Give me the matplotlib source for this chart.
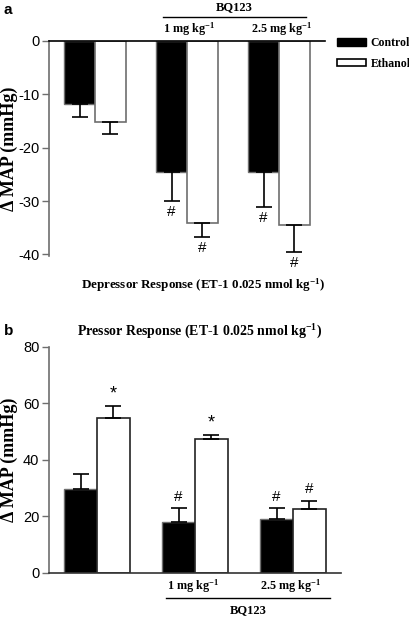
import matplotlib
matplotlib.use('Agg')
import matplotlib.pyplot as plt
import numpy as np

plt.rcParams['axes.unicode_minus'] = False
plt.rcParams['mathtext.fontset'] = 'custom'
plt.rcParams['mathtext.rm'] = 'Liberation Serif:bold'
plt.rcParams['mathtext.it'] = 'Liberation Serif:bold'
plt.rcParams['mathtext.bf'] = 'Liberation Serif:bold'

# ---- data ----
groups = ['Vehicle', '1 mg kg$^{-1}$', '2.5 mg kg$^{-1}$']
series = ['Control', 'Ethanol']

dep_control = [-11.8, -24.6, -24.5]
dep_control_err = [2.5, 5.4, 6.6]
dep_ethanol = [-15.2, -34.1, -34.5]
dep_ethanol_err = [2.3, 2.7, 5.1]
dep_control_marks = ['', '#', '#']
dep_ethanol_marks = ['', '#', '#']

pre_control = [29.7, 17.9, 19.1]
pre_control_err = [5.2, 5.1, 3.9]
pre_ethanol = [54.8, 47.2, 22.6]
pre_ethanol_err = [4.1, 1.4, 2.9]
pre_control_marks = ['', '#', '#']
pre_ethanol_marks = ['*', '*', '#']

dep_yticks = [0, -10, -20, -30, -40]
pre_yticks = [0, 20, 40, 60, 80]

SERIF = 'Liberation Serif'
SANS = 'Liberation Sans'
GRAY = '#6e6e6e'

fig = plt.figure(figsize=(4.1, 6.18), dpi=100)
fig.patch.set_facecolor('white')

x = np.arange(len(groups))
bw = 0.335
ekw = dict(ecolor='black', elinewidth=1.2, capsize=6, capthick=1.2)


def style_axis(ax, label_x):
    for s in ['top', 'right']:
        ax.spines[s].set_visible(False)
    ax.spines['left'].set_color(GRAY)
    ax.spines['bottom'].set_color(GRAY)
    ax.spines['left'].set_linewidth(1.2)
    ax.tick_params(axis='y', direction='out', length=5, width=1, color=GRAY,
                   labelsize=10.5, pad=2)
    for lab in ax.get_yticklabels():
        lab.set_family(SANS)
    ax.set_xticks([])
    ax.set_ylabel('\u0394 MAP (mmHg)', family=SERIF, fontweight='bold', fontsize=13)
    ax.yaxis.set_label_coords(label_x, 0.5)


def px(xp, yp):
    return xp / 410, 1 - yp / 618


# ============ panel a: depressor ============
ax = fig.add_axes([49 / 410, 1 - 256 / 618, 276 / 410, 215 / 618])
ax.bar(x - bw / 2, dep_control, bw, color='black', edgecolor=GRAY, lw=1,
       yerr=[dep_control_err, np.zeros(3)], error_kw=ekw, label='Control', zorder=2)
ax.bar(x + bw / 2, dep_ethanol, bw, color='white', edgecolor=GRAY, lw=1.2,
       yerr=[dep_ethanol_err, np.zeros(3)], error_kw=ekw, label='Ethanol', zorder=2)
ax.set_xlim(-0.5, 2.5)
ax.set_ylim(-40.3, 0)
ax.set_yticks(dep_yticks)
style_axis(ax, -0.112)
ax.spines['bottom'].set_visible(False)
ax.axhline(0, color='black', lw=1.2, zorder=3, clip_on=False)

for i in range(3):
    for off, vals, errs, marks in [(-bw / 2, dep_control, dep_control_err, dep_control_marks),
                                   (bw / 2, dep_ethanol, dep_ethanol_err, dep_ethanol_marks)]:
        if marks[i]:
            ax.annotate(marks[i], (x[i] + off, vals[i] - errs[i]), xytext=(0, -3),
                        textcoords='offset points', ha='center', va='top',
                        fontsize=11, family=SANS, annotation_clip=False)

# BQ123 bracket above
fig.text(*px(189, 32.5), groups[1], ha='center', va='baseline', fontsize=8.7,
         fontweight='bold', family=SERIF)
fig.text(*px(281, 32.5), groups[2], ha='center', va='baseline', fontsize=8.7,
         fontweight='bold', family=SERIF)
fig.lines.append(plt.Line2D([163 / 410, 306 / 410], [1 - 16.7 / 618] * 2,
                            color='black', lw=1, transform=fig.transFigure))
fig.text(*px(234, 7.5), 'BQ123', ha='center', va='center', fontsize=9,
         fontweight='bold', family=SERIF)
fig.text(*px(203, 285), 'Depressor Response (ET-1 0.025 nmol kg$^{-1}$)',
         ha='center', va='center', fontsize=9.4, fontweight='bold', family=SERIF)

leg = fig.legend(loc='upper left', bbox_to_anchor=px(337, 37), frameon=False,
                 prop=dict(family=SERIF, weight='bold', size=8.5), handlelength=2.45,
                 handleheight=0.6, labelspacing=0.75, handletextpad=0.4,
                 borderaxespad=0, borderpad=0)
for p in leg.get_patches():
    p.set_edgecolor('black')

# ============ panel b: pressor ============
ax2 = fig.add_axes([49 / 410, 1 - 572.7 / 618, 292 / 410, 226 / 618])
ax2.bar(x - bw / 2, pre_control, bw, color='black', edgecolor=GRAY, lw=1,
        yerr=[np.zeros(3), pre_control_err], error_kw=ekw, zorder=2)
ax2.bar(x + bw / 2, pre_ethanol, bw, color='white', edgecolor='#222222', lw=1.2,
        yerr=[np.zeros(3), pre_ethanol_err], error_kw=ekw, zorder=2)
ax2.set_xlim(-0.49, 2.49)
ax2.set_ylim(0, 80)
ax2.set_yticks(pre_yticks)
style_axis(ax2, -0.106)
ax2.spines['bottom'].set_color('#333333')
ax2.spines['bottom'].set_linewidth(1.2)

for i in range(3):
    for off, vals, errs, marks in [(-bw / 2, pre_control, pre_control_err, pre_control_marks),
                                   (bw / 2, pre_ethanol, pre_ethanol_err, pre_ethanol_marks)]:
        if marks[i]:
            ax2.annotate(marks[i], (x[i] + off, vals[i] + errs[i]), xytext=(0, 3),
                         textcoords='offset points', ha='center', va='bottom',
                         fontsize=13 if marks[i] == '*' else 11, family=SANS)

fig.text(*px(193, 590), groups[1], ha='center', va='baseline', fontsize=8.7,
         fontweight='bold', family=SERIF)
fig.text(*px(290, 590), groups[2], ha='center', va='baseline', fontsize=8.7,
         fontweight='bold', family=SERIF)
fig.lines.append(plt.Line2D([166 / 410, 330 / 410], [1 - 597.7 / 618] * 2,
                            color='black', lw=1, transform=fig.transFigure))
fig.text(*px(248, 610), 'BQ123', ha='center', va='center', fontsize=9,
         fontweight='bold', family=SERIF)
fig.text(*px(200, 332), 'Pressor Response (ET-1 0.025 nmol kg$^{-1}$)',
         ha='center', va='center', fontsize=10, fontweight='bold', family=SERIF)

# panel letters
fig.text(*px(4, 10), 'a', ha='left', va='center', fontsize=11,
         fontweight='bold', family=SANS)
fig.text(*px(4, 331), 'b', ha='left', va='center', fontsize=11,
         fontweight='bold', family=SANS)

fig.savefig('out.png', dpi=100, facecolor='white')
